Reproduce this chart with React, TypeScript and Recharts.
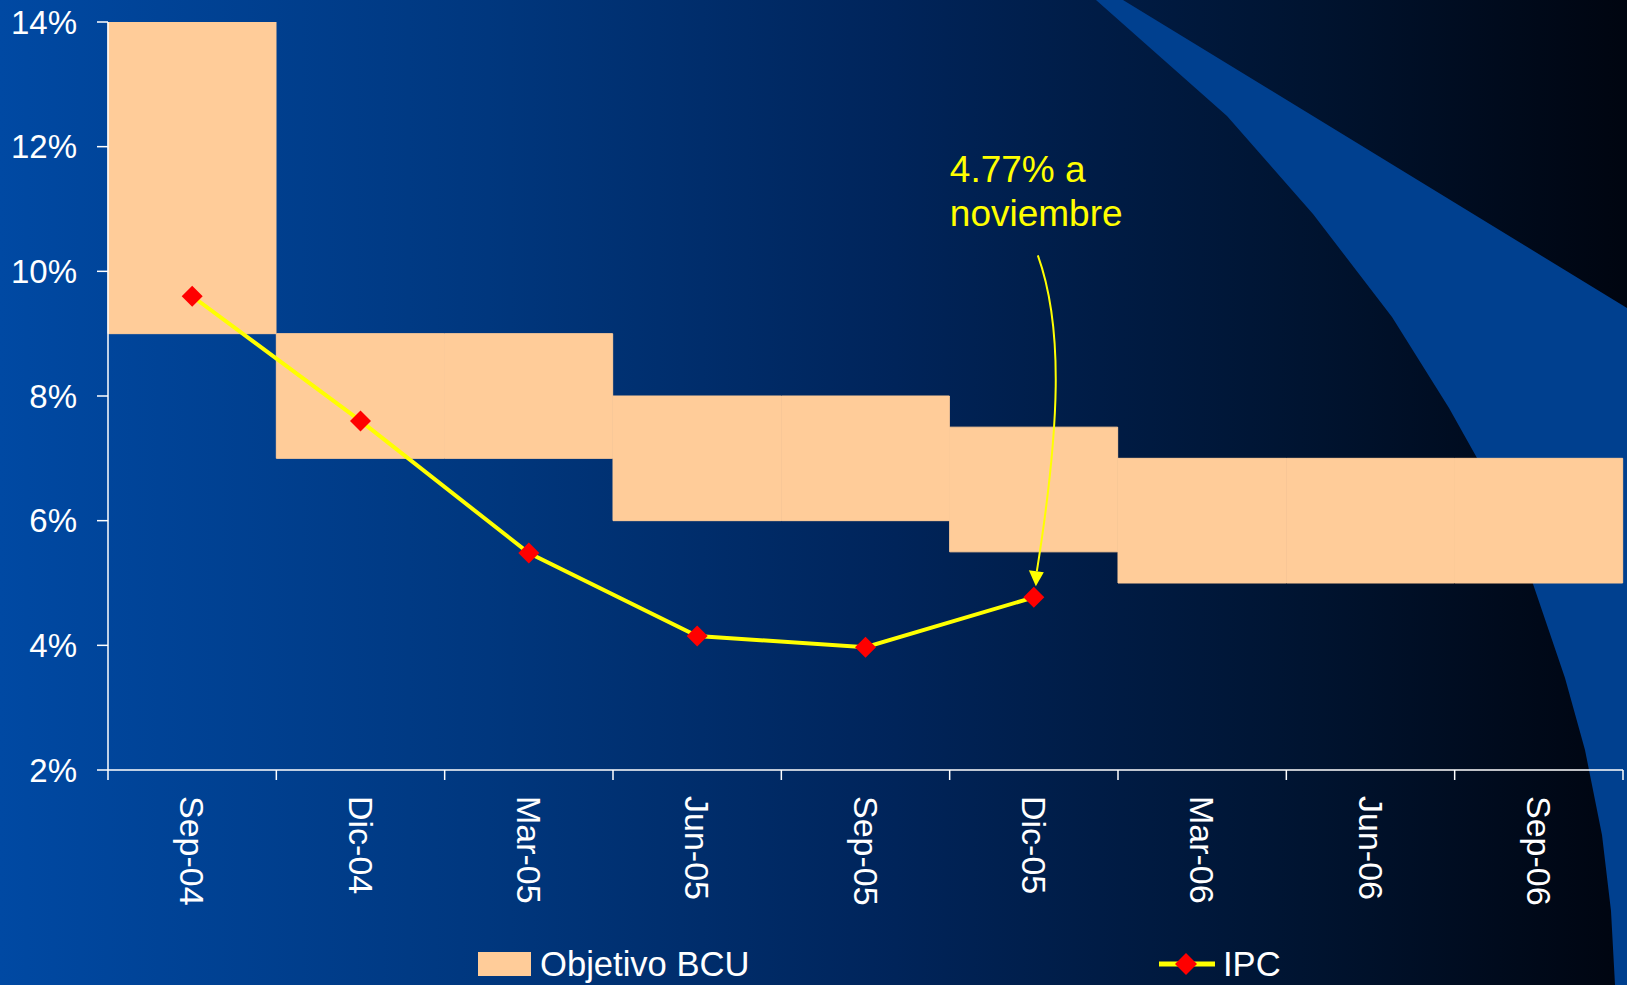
import React from 'react';
import {
  ComposedChart,
  Bar,
  Line,
  XAxis,
  YAxis,
  ReferenceDot,
} from 'recharts';

// Trimestres del período
const meses = ['Sep-04', 'Dic-04', 'Mar-05', 'Jun-05', 'Sep-05', 'Dic-05', 'Mar-06', 'Jun-06', 'Sep-06'];

// Rango objetivo del BCU (piso y techo, en %)
const objetivoPiso = [9, 7, 7, 6, 6, 5.5, 5, 5, 5];
const objetivoTecho = [14, 9, 9, 8, 8, 7.5, 7, 7, 7];

// Inflación IPC interanual (%), sin dato para 2006
const ipc: (number | null)[] = [9.6, 7.6, 5.48, 4.15, 3.97, 4.77, null, null, null];

const ticksY = [2, 4, 6, 8, 10, 12, 14];

const W = 1627;
const H = 985;
const FUENTE = '"Liberation Sans", Arial, Helvetica, sans-serif';
const PEACH = '#FFCC99';
const AMARILLO = '#FFFF00';
const ROJO = '#FF0000';
const BLANCO = '#FFFFFF';

const data = meses.map((mes, i) => ({
  mes,
  objetivo: [objetivoPiso[i], objetivoTecho[i]],
  ipc: ipc[i],
}));

// Último dato disponible del IPC (se anota en el gráfico)
const ultimoIdx = ipc.reduce<number>((acc, v, i) => (v != null ? i : acc), 0);
const ultimoValor = ipc[ultimoIdx] as number;

const Rombo = (props: any) => {
  const { cx, cy } = props;
  if (cx == null || cy == null) return null;
  const s = 10.5;
  return (
    <polygon
      points={`${cx},${cy - s} ${cx + s},${cy} ${cx},${cy + s} ${cx - s},${cy}`}
      fill={ROJO}
    />
  );
};

// Etiqueta vertical del trimestre, con las marcas del eje en los bordes de cada categoría
const MARCA_GAP = 26;
const MARCA_LARGO = 10;
const TickMes = (props: any) => {
  const { x, y, payload, index, width } = props;
  const medio = payload?.offset ?? width / (2 * meses.length);
  const y0 = y - MARCA_GAP;
  const ultimo = index === meses.length - 1;
  return (
    <g>
      <line x1={x - medio} x2={x - medio} y1={y0} y2={y0 + MARCA_LARGO} stroke={BLANCO} strokeWidth={1.5} />
      {ultimo && (
        <line x1={x + medio} x2={x + medio} y1={y0} y2={y0 + MARCA_LARGO} stroke={BLANCO} strokeWidth={1.5} />
      )}
      <text
        x={x}
        y={y}
        transform={`rotate(90, ${x}, ${y})`}
        textAnchor="start"
        dominantBaseline="central"
        fill={BLANCO}
        fontSize={34}
        fontFamily={FUENTE}
      >
        {payload.value}
      </text>
    </g>
  );
};

// Flecha curva con el texto del último dato
const Anotacion = (props: any) => {
  const { cx, cy } = props;
  if (cx == null || cy == null) return null;
  return (
    <g>
      <text x={cx - 84} y={cy - 415} fill={AMARILLO} fontSize={37} fontFamily={FUENTE}>
        {`${ultimoValor}% a`}
      </text>
      <text x={cx - 84} y={cy - 371} fill={AMARILLO} fontSize={37} fontFamily={FUENTE}>
        noviembre
      </text>
      <path
        d={`M ${cx + 4} ${cy - 342} C ${cx + 30} ${cy - 270}, ${cx + 26} ${cy - 170}, ${cx + 3} ${cy - 26}`}
        fill="none"
        stroke={AMARILLO}
        strokeWidth={2}
      />
      <polygon
        points={`${cx - 5} ${cy - 27}, ${cx + 10} ${cy - 25}, ${cx + 2} ${cy - 11}`}
        fill={AMARILLO}
      />
    </g>
  );
};

const Fondo = () => (
  <svg width={W} height={H} style={{ position: 'absolute', left: 0, top: 0 }}>
    <defs>
      <linearGradient id="fondo" x1="0" y1="0" x2="1" y2="0">
        <stop offset="0%" stopColor="#0049A3" />
        <stop offset="30%" stopColor="#00377E" />
        <stop offset="55%" stopColor="#00245A" />
        <stop offset="80%" stopColor="#001431" />
        <stop offset="100%" stopColor="#000510" />
      </linearGradient>
    </defs>
    <rect x={0} y={0} width={W} height={H} fill="url(#fondo)" />
    <path
      d="M 1096 0 L 1123 0 L 1627 308 L 1627 985 L 1615 985
         L 1611 911 L 1602 835 L 1585 750 L 1565 678 L 1532 581
         L 1477 458 L 1449 408 L 1392 317 L 1313 214 L 1227 116 Z"
      fill="#00408F"
    />
  </svg>
);

const Leyenda = () => (
  <div style={{ position: 'absolute', left: 0, top: 0, width: W, height: H, pointerEvents: 'none', fontFamily: FUENTE, color: BLANCO, fontSize: 34.6 }}>
    <div style={{ position: 'absolute', left: 478, top: 952, width: 53, height: 24, background: PEACH }} />
    <div style={{ position: 'absolute', left: 540, top: 944, lineHeight: '40px' }}>Objetivo BCU</div>
    <svg width={56} height={24} style={{ position: 'absolute', left: 1159, top: 952 }}>
      <line x1={0} y1={12} x2={56} y2={12} stroke={AMARILLO} strokeWidth={5} />
      <polygon points="27,1 38,12 27,23 16,12" fill={ROJO} />
    </svg>
    <div style={{ position: 'absolute', left: 1223, top: 944, lineHeight: '40px' }}>IPC</div>
  </div>
);

export default function App() {
  return (
    <div style={{ position: 'absolute', left: 0, top: 0, width: W, height: H, overflow: 'hidden' }}>
      <Fondo />
      <div style={{ position: 'absolute', left: 0, top: 0 }}>
        <ComposedChart
          width={W}
          height={H}
          data={data}
          margin={{ top: 22, right: 4, bottom: 0, left: 0 }}
          barCategoryGap={0}
          barGap={0}
        >
          <XAxis
            dataKey="mes"
            height={215}
            axisLine={{ stroke: BLANCO, strokeWidth: 1.5 }}
            tickLine={false}
            tickSize={0}
            tickMargin={MARCA_GAP}
            interval={0}
            tick={<TickMes />}
          />
          <YAxis
            domain={[2, 14]}
            ticks={ticksY}
            width={108}
            allowDataOverflow
            tickFormatter={(v: number) => `${v}%`}
            axisLine={{ stroke: BLANCO, strokeWidth: 1.5 }}
            tickLine={{ stroke: BLANCO, strokeWidth: 1.5 }}
            tickSize={11}
            tickMargin={20}
            tick={{ fill: BLANCO, fontSize: 33, fontFamily: FUENTE }}
          />
          <Bar
            dataKey="objetivo"
            fill={PEACH}
            stroke={PEACH}
            strokeWidth={1}
            isAnimationActive={false}
          />
          <Line
            type="linear"
            dataKey="ipc"
            stroke={AMARILLO}
            strokeWidth={4}
            dot={<Rombo />}
            activeDot={false}
            connectNulls={false}
            isAnimationActive={false}
          />
          <ReferenceDot
            x={meses[ultimoIdx]}
            y={ultimoValor}
            r={0}
            shape={<Anotacion />}
            ifOverflow="visible"
          />
        </ComposedChart>
      </div>
      <Leyenda />
    </div>
  );
}
